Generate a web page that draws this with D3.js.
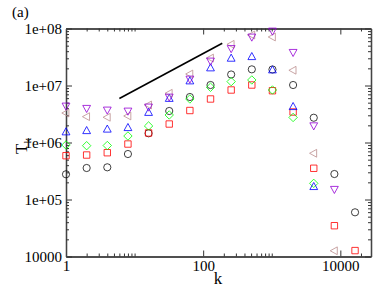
<!DOCTYPE html>
<html><head><meta charset="utf-8">
<script src="https://cdn.jsdelivr.net/npm/d3@7"></script>
<style>
html,body{margin:0;padding:0;background:#fff;}
svg{display:block;}
svg text{font-family:"Liberation Serif","DejaVu Serif",serif !important;}
</style></head>
<body><svg id="c" width="374" height="287"></svg>
<script>
// ---- data ----
const kValues = [1,2,4,8,16,32,64,128,256,512,1024,2048,4096,8192,16384];
const circleT  = [2.77e5,3.57e5,3.67e5,6.28e5,1.45e6,3.57e6,6.28e6,1.02e7,1.56e7,1.92e7,1.91e7,1.02e7,2.72e6,2.80e5,5.96e4];
const squareT  = [5.87e5,6.03e5,6.62e5,9.4e5,1.47e6,2.11e6,3.64e6,5.80e6,8.34e6,1.02e7,8.1e6,3.43e6,3.53e5,3.47e4,1.27e4];
const diamondT = [9.04e5,8.79e5,8.85e5,1.30e6,1.95e6,3.04e6,5.80e6,9.3e6,1.17e7,1.25e7,8.34e6,2.75e6,1.92e5];
const upT      = [1.53e6,1.61e6,1.71e6,1.82e6,3.36e6,5.92e6,1.2e7,2.03e7,3.0e7,3.2e7,1.87e7,4.25e6,1.68e5];
const downT    = [4.37e6,3.98e6,3.72e6,3.57e6,4.2e6,6.28e6,1.30e7,2.69e7,4.46e7,7.1e7,9.04e7,3.82e7,1.97e6,1.51e5];
const leftT    = [3.29e6,2.84e6,2.77e6,2.92e6,4.55e6,7.3e6,1.59e7,3.03e7,5.28e7,7.69e7,7.1e7,1.85e7,6.47e5,1.26e4];
const guideK = [6, 190];
const guideT = [5.9e6, 5.5e7];
const xMajor = [1,100,10000];
const xMinor = [2,3,4,5,6,7,8,9,10,200,300,400,500,600,700,800,900,1000,20000];
const yMajor = [1e4,1e5,1e6,1e7,1e8];
const yMajorLabels = ["10000","1e+05","1e+06","1e+07","1e+08"];
const yMinor = [];
[1e4,1e5,1e6,1e7].forEach(d=>{for(let m=2;m<=9;m++) yMinor.push(d*m);});

// ---- layout ----
const L=66, R=371, T=28.5, B=256.5;
const svg = d3.select("#c");
const x = d3.scaleLog().domain([1,28000]).range([L,R]);
const y = d3.scaleLog().domain([1e4,1e8]).range([B,T]);

// axes
const fmtX = d=>String(d);
const gB = svg.append("g").attr("transform",`translate(0,${B})`);
gB.call(d3.axisBottom(x).tickValues(xMajor).tickFormat(fmtX).tickSizeInner(-6).tickSizeOuter(0).tickPadding(4));
const gBm = svg.append("g").attr("transform",`translate(0,${B})`);
gBm.call(d3.axisBottom(x).tickValues(xMinor).tickFormat("").tickSizeInner(-3).tickSizeOuter(0));
const gT = svg.append("g").attr("transform",`translate(0,${T})`);
gT.call(d3.axisTop(x).tickValues(xMajor).tickFormat("").tickSizeInner(-6).tickSizeOuter(0));
const gTm = svg.append("g").attr("transform",`translate(0,${T})`);
gTm.call(d3.axisTop(x).tickValues(xMinor).tickFormat("").tickSizeInner(-3).tickSizeOuter(0));
const gL = svg.append("g").attr("transform",`translate(${L},0)`);
gL.call(d3.axisLeft(y).tickValues(yMajor).tickFormat((d,i)=>yMajorLabels[i]).tickSizeInner(-6).tickSizeOuter(0).tickPadding(4));
const gLm = svg.append("g").attr("transform",`translate(${L},0)`);
gLm.call(d3.axisLeft(y).tickValues(yMinor).tickFormat("").tickSizeInner(-3).tickSizeOuter(0));
const gR = svg.append("g").attr("transform",`translate(${R},0)`);
gR.call(d3.axisRight(y).tickValues(yMajor).tickFormat("").tickSizeInner(-6).tickSizeOuter(0));
const gRm = svg.append("g").attr("transform",`translate(${R},0)`);
gRm.call(d3.axisRight(y).tickValues(yMinor).tickFormat("").tickSizeInner(-3).tickSizeOuter(0));
svg.selectAll(".domain").attr("stroke","#444").attr("stroke-width",1.3);
svg.selectAll(".tick line").attr("stroke","#333").attr("stroke-width",1);
svg.selectAll(".tick text").attr("font-size",15).attr("fill","#000");
gB.selectAll(".tick text").attr("dy","0.71em");

// guide line
svg.append("line")
  .attr("x1",x(guideK[0])).attr("y1",y(guideT[0]))
  .attr("x2",x(guideK[1])).attr("y2",y(guideT[1]))
  .attr("stroke","#000").attr("stroke-width",1.6);

// markers
const shapes = {
  circle: "M3.6,0A3.6,3.6 0 1,1 -3.6,0A3.6,3.6 0 1,1 3.6,0Z",
  square: "M-3.2,-3.2H3.2V3.2H-3.2Z",
  diamond:"M0,-4.2L4.2,0L0,4.2L-4.2,0Z",
  up:     "M0,-4.2L3.9,2.9L-3.9,2.9Z",
  down:   "M0,4.2L3.9,-2.9L-3.9,-2.9Z",
  left:   "M-4.2,0L2.9,-3.9L2.9,3.9Z"
};
const series = [
  {vals:circleT, shape:"circle", color:"#000000"},
  {vals:squareT, shape:"square", color:"#ff0000"},
  {vals:diamondT,shape:"diamond",color:"#00ff00"},
  {vals:upT,     shape:"up",     color:"#0000ff"},
  {vals:leftT,   shape:"left",   color:"#bc8f8f"},
  {vals:downT,   shape:"down",   color:"#9400d3"}
];
series.forEach(s=>{
  svg.append("g").selectAll("path").data(s.vals).join("path")
    .attr("transform",(d,i)=>`translate(${x(kValues[i])},${y(d)})`)
    .attr("d",shapes[s.shape])
    .attr("fill","none").attr("stroke",s.color).attr("stroke-width",1)
    .attr("stroke-opacity",s.shape==="circle"?0.75:0.8);
});

// labels
svg.append("text").attr("x",12).attr("y",17).attr("font-size",15).text("(a)");
svg.append("text").attr("x",218).attr("y",284).attr("font-size",17).attr("text-anchor","middle").text("k");
const yl = svg.append("text").attr("transform","translate(27,154) rotate(-90)").attr("font-size",17);
yl.append("tspan").text("T");
yl.append("tspan").attr("font-size",11).attr("dy",4).text("k");
</script></body></html>
